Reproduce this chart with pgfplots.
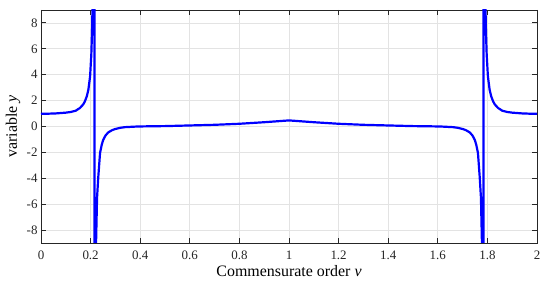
\documentclass[border=0pt]{standalone}
\usepackage{fontspec}
\setmainfont{Liberation Serif}
\usepackage{pgfplots}
\pgfplotsset{compat=1.18}
\definecolor{gridc}{HTML}{E3E3E3}
\definecolor{axc}{HTML}{262626}
\begin{document}
\begin{tikzpicture}
\begin{axis}[
  scale only axis, width=496bp, height=233bp,
  xmin=0, xmax=2, ymin=-9, ymax=9,
  xtick={0,0.2,0.4,0.6,0.8,1,1.2,1.4,1.6,1.8,2},
  xticklabels={0,0.2,0.4,0.6,0.8,1,1.2,1.4,1.6,1.8,2},
  ytick={-8,-6,-4,-2,0,2,4,6,8},
  /pgf/number format/assume math mode=true,
  tick align=inside, xtick pos=both, ytick pos=both,
  major tick length=5bp,
  grid=major, major grid style={gridc, line width=0.8bp},
  axis line style={axc, line width=0.9bp},
  tick style={axc, line width=0.9bp},
  ticklabel style={font=\fontsize{13}{13}\selectfont, text=axc},
  xticklabel style={anchor=base, yshift=-17bp},
  xlabel={Commensurate order \textit{v}},
  ylabel={variable \textit{y}},
  label style={font=\fontsize{16}{16}\selectfont, text=black},
  xlabel style={at={(axis description cs:0.5,0)}, anchor=base, yshift=-33.7bp},
  ylabel style={at={(axis description cs:-0.0565,0.5)}, anchor=center},
]
\addplot[blue, line width=2.2bp] coordinates {
(0,0.98) (0.03,0.99) (0.06,1.01) (0.08,1.04) (0.10,1.07) (0.12,1.12) (0.14,1.22)
(0.157,1.43) (0.17,1.7) (0.177,1.94) (0.185,2.35) (0.191,2.84) (0.198,3.88)
(0.203,5.6) (0.206,7.5) (0.209,10.5) (0.213,20) (0.2155,40)
(0.2165,-40) (0.219,-15) (0.222,-9) (0.226,-5.5) (0.231,-3.9) (0.238,-2.06)
(0.245,-1.4) (0.251,-1.03) (0.26,-0.7) (0.271,-0.46) (0.285,-0.3) (0.298,-0.2)
(0.32,-0.1) (0.339,-0.05) (0.39,0) (0.45,0.02) (0.5,0.03) (0.6,0.08) (0.7,0.13)
(0.8,0.21) (0.9,0.33) (1.0,0.47)
(1.1,0.33) (1.2,0.21) (1.3,0.13) (1.4,0.08) (1.5,0.03) (1.55,0.02) (1.61,0)
(1.661,-0.05) (1.68,-0.1) (1.702,-0.2) (1.715,-0.3) (1.729,-0.46) (1.74,-0.7)
(1.749,-1.03) (1.755,-1.4) (1.762,-2.06) (1.769,-3.9) (1.774,-5.5) (1.778,-9)
(1.781,-15) (1.7835,-40)
(1.7845,40) (1.787,20) (1.791,10.5) (1.794,7.5) (1.797,5.6) (1.802,3.88) (1.809,2.84)
(1.815,2.35) (1.823,1.94) (1.83,1.7) (1.843,1.43) (1.86,1.22) (1.88,1.12)
(1.9,1.07) (1.92,1.04) (1.94,1.01) (1.97,0.99) (2,0.98)
};
\end{axis}
\pgfresetboundingbox
\path[use as bounding box] ([shift={(-41bp,-40bp)}]current axis.south west) rectangle ([shift={(10bp,10bp)}]current axis.north east);
\end{tikzpicture}
\end{document}
